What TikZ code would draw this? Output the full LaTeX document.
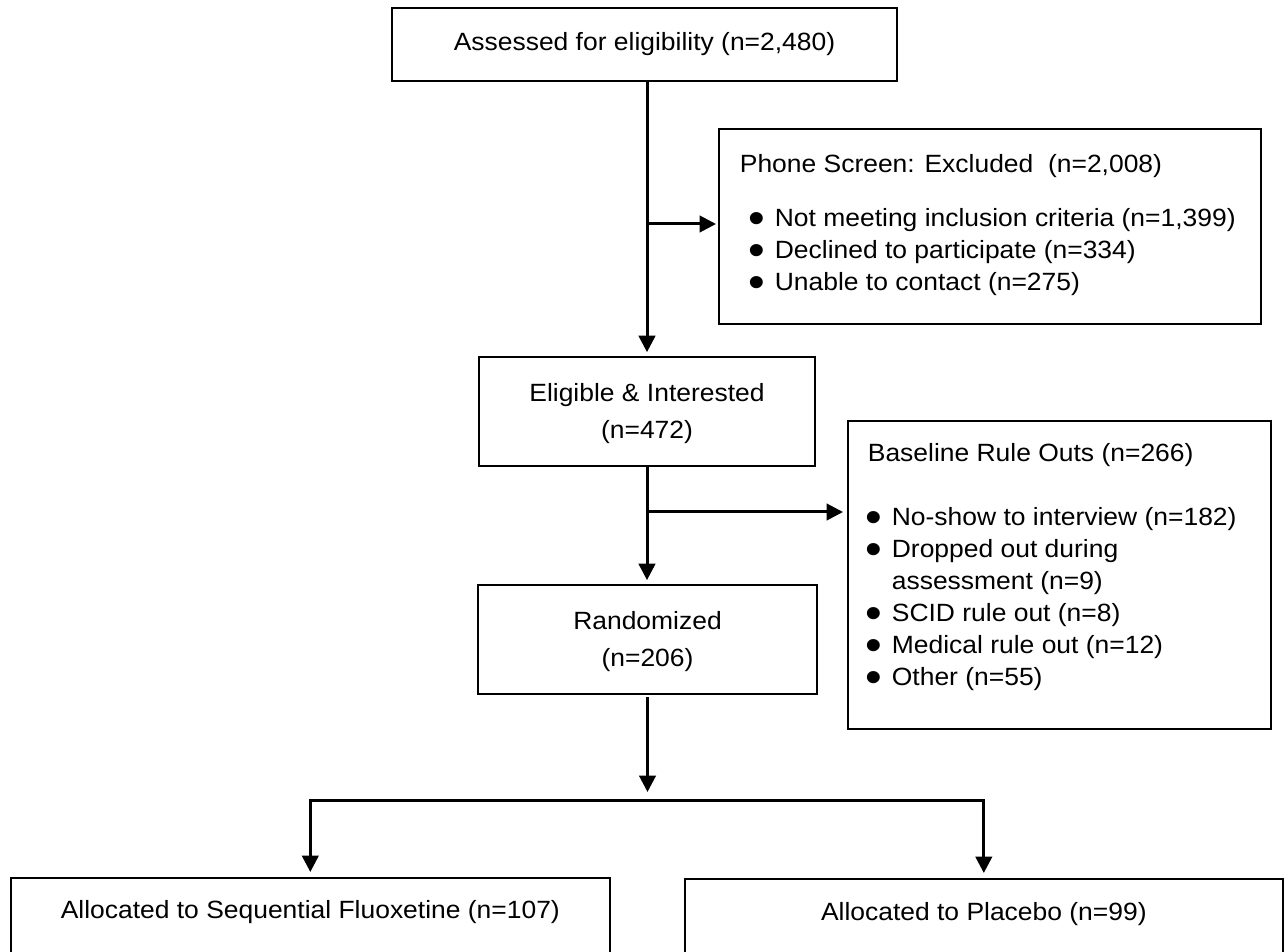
\documentclass[tikz,border=0pt]{standalone}
\usepackage{fontspec}
\setmainfont{Liberation Sans}[FakeStretch=1.06]
\usetikzlibrary{arrows.meta}
\newlength{\pxu}\setlength{\pxu}{0.02cm}
\newcommand{\lstbox}[5]{\begin{minipage}[t][#2][t]{#1}\setlength{\leftskip}{#3}\vspace*{#4}#5\end{minipage}}
\newcommand{\bigbul}{\hspace*{-2\pxu}\smash{\raisebox{-0.27em}{\scalebox{1.8}{\textbullet}}}}
\newcommand{\itm}[2]{\strut\hspace*{#1}\makebox[24\pxu][l]{\bigbul}#2\par}
\begin{document}
\begin{tikzpicture}[x=0.02cm,y=-0.02cm,
  box/.style={draw, line width=0.035cm, inner sep=0pt, font=\fontsize{14.2pt}{18.2pt}\selectfont},
  arr/.style={line width=0.06cm, -{Triangle[length=0.33cm,width=0.33cm]}}]
\useasboundingbox (0,0) rectangle (1288,952);
\clip (0,0) rectangle (1288,952);
\fill[white] (0,0) rectangle (1288,952);

\node[box, minimum width=10.1cm, minimum height=1.46cm] (assess) at (644.5,44.5) {Assessed for eligibility (n=2,480)};

\node[box, anchor=north west] (phone) at (718,128) {\lstbox{10.84cm}{3.9cm}{21\pxu}{21.6\pxu}{%
\strut Phone Screen: Excluded\ \ (n=2,008)\par
\vspace{22\pxu}
\itm{11\pxu}{Not meeting inclusion criteria (n=1,399)}
\itm{11\pxu}{Declined to participate (n=334)}
\itm{11\pxu}{Unable to contact (n=275)}}};

\node[box, align=center, minimum width=6.72cm, minimum height=2.18cm, font=\fontsize{14.2pt}{21pt}\selectfont] (elig) at (647,411.5) {\rule{0pt}{22\pxu}Eligible \& Interested\\(n=472)};

\node[box, anchor=north west] (base) at (847,420) {\lstbox{8.46cm}{6.16cm}{20\pxu}{18.6\pxu}{%
\strut Baseline Rule Outs (n=266)\par
\vspace{32\pxu}
\itm{0pt}{No-show to interview (n=182)}
\itm{0pt}{Dropped out during}
\strut\hspace*{24\pxu}assessment (n=9)\par
\itm{0pt}{SCID rule out (n=8)}
\itm{0pt}{Medical rule out (n=12)}
\itm{0pt}{Other (n=55)}}};

\node[box, align=center, minimum width=6.78cm, minimum height=2.18cm, font=\fontsize{14.2pt}{21pt}\selectfont] (rand) at (647.5,639.5) {\rule{0pt}{22\pxu}Randomized\\(n=206)};

\node[box, anchor=north west, minimum width=11.98cm, text height=0.82cm, text depth=1.7cm] (fluox) at (10,877) {Allocated to Sequential Fluoxetine (n=107)};
\node[box, anchor=north west, minimum width=11.96cm, text height=0.84cm, text depth=1.7cm] (placebo) at (684,878) {Allocated to Placebo (n=99)};

\draw[arr, shorten >=0.08cm] (elig.north |- assess.south) -- (elig.north);
\coordinate (b1) at (647,224);
\draw[arr, shorten >=0.04cm] (b1) -- (b1 -| phone.west);
\draw[arr, shorten >=0.08cm] (elig.south) -- (elig.south |- rand.north);
\coordinate (b2) at (647,512);
\draw[arr, shorten >=0.08cm] (b2) -- (b2 -| base.west);
\coordinate (split) at (647,800);
\draw[arr, shorten >=0.16cm] (rand.south |- 0,697) -- (rand.south |- split);
\draw[arr, shorten >=0.1cm] (split) -| (fluox.north);
\draw[arr, shorten >=0.1cm] (split) -| (placebo.north);
\end{tikzpicture}
\end{document}
